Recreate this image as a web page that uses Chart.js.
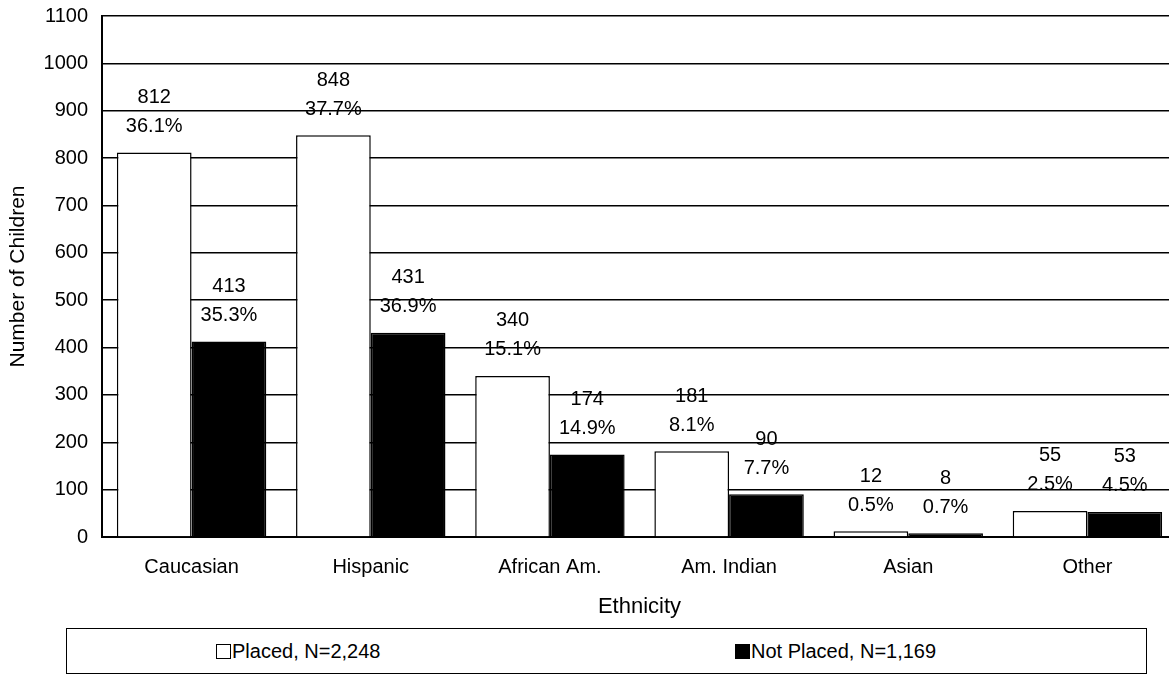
<!DOCTYPE html>
<html lang="en">
<head>
<meta charset="UTF-8">
<title>Placement by Ethnicity</title>
<script src="https://cdn.jsdelivr.net/npm/chart.js"></script>
<style>
  body { margin: 0; background: #fff; overflow: hidden; font-family: "Liberation Sans", Arial, sans-serif; }
  #wrap { position: absolute; left: 0; top: 0; width: 1177px; height: 620px; }
  #legendBox { position: absolute; left: 66px; top: 628px; width: 1081px; height: 46px; border: 1.5px solid #000; box-sizing: border-box; }
  .item { position: absolute; top: 11px; font-size: 20px; line-height: 22px; }
  .sw { display: inline-block; width: 15px; height: 15px; border: 1.5px solid #000; box-sizing: border-box; vertical-align: -1px; margin-right: 1px; }
</style>
</head>
<body>
<div id="wrap"><canvas id="chart" width="1177" height="620"></canvas></div>
<div id="legendBox">
  <div class="item" style="left:149px"><span class="sw" style="background:#fff"></span>Placed, N=2,248</div>
  <div class="item" style="left:668px"><span class="sw" style="background:#000"></span>Not Placed, N=1,169</div>
</div>
<script>
// chart data
const categories = ['Caucasian', 'Hispanic', 'African Am.', 'Am. Indian', 'Asian', 'Other'];
const placed = [812, 848, 340, 181, 12, 55];
const placedPct = ['36.1%', '37.7%', '15.1%', '8.1%', '0.5%', '2.5%'];
const notPlaced = [413, 431, 174, 90, 8, 53];
const notPlacedPct = ['35.3%', '36.9%', '14.9%', '7.7%', '0.7%', '4.5%'];

const font = "'Liberation Sans', Arial, sans-serif";

// draws "value / percent" above each bar
const barLabels = {
    id: 'barLabels',
    afterDatasetsDraw(chart) {
        const ctx = chart.ctx;
        ctx.save();
        ctx.fillStyle = '#000';
        ctx.font = '20px ' + font;
        ctx.textAlign = 'center';
        ctx.textBaseline = 'middle';
        chart.data.datasets.forEach((ds, i) => {
            chart.getDatasetMeta(i).data.forEach((bar, j) => {
                ctx.fillText(String(ds.data[j]), bar.x, bar.y - 55);
                ctx.fillText(ds.pct[j], bar.x, bar.y - 26);
            });
        });
        ctx.restore();
    }
};

new Chart(document.getElementById('chart'), {
    type: 'bar',
    data: {
        labels: categories,
        datasets: [
            { label: 'Placed, N=2,248', data: placed, pct: placedPct,
              backgroundColor: '#fff', borderColor: '#000', borderWidth: 1.5 },
            { label: 'Not Placed, N=1,169', data: notPlaced, pct: notPlacedPct,
              backgroundColor: '#000', borderColor: '#000', borderWidth: 1.5 }
        ]
    },
    options: {
        responsive: false,
        animation: false,
        categoryPercentage: 0.834,
        barPercentage: 1.0,
        layout: { padding: { top: 16, right: 0, left: 0, bottom: 0 } },
        plugins: {
            legend: { display: false },
            tooltip: { enabled: false }
        },
        scales: {
            x: {
                afterFit(scale) { scale.height = 83; },
                grid: { display: false, drawTicks: false },
                border: { color: '#000', width: 2 },
                ticks: { color: '#000', font: { size: 20, family: font }, padding: 18 },
                title: { display: true, text: 'Ethnicity', color: '#000',
                         font: { size: 22, family: font }, padding: { top: 0, bottom: 0 } }
            },
            y: {
                min: 0,
                max: 1100,
                afterFit(scale) {
                    scale.width = 102;
                    scale.paddingTop = 0;
                    scale.paddingBottom = 0;
                },
                ticks: { stepSize: 100, color: '#000', font: { size: 20, family: font }, padding: 14,
                         callback: v => String(v) },
                grid: { color: '#000', lineWidth: 1.5, drawTicks: false },
                border: { color: '#000', width: 2 },
                title: { display: true, text: 'Number of Children', color: '#000',
                         font: { size: 21, family: font }, padding: { top: 6, bottom: 4 } }
            }
        }
    },
    plugins: [barLabels]
});
</script>
</body>
</html>
